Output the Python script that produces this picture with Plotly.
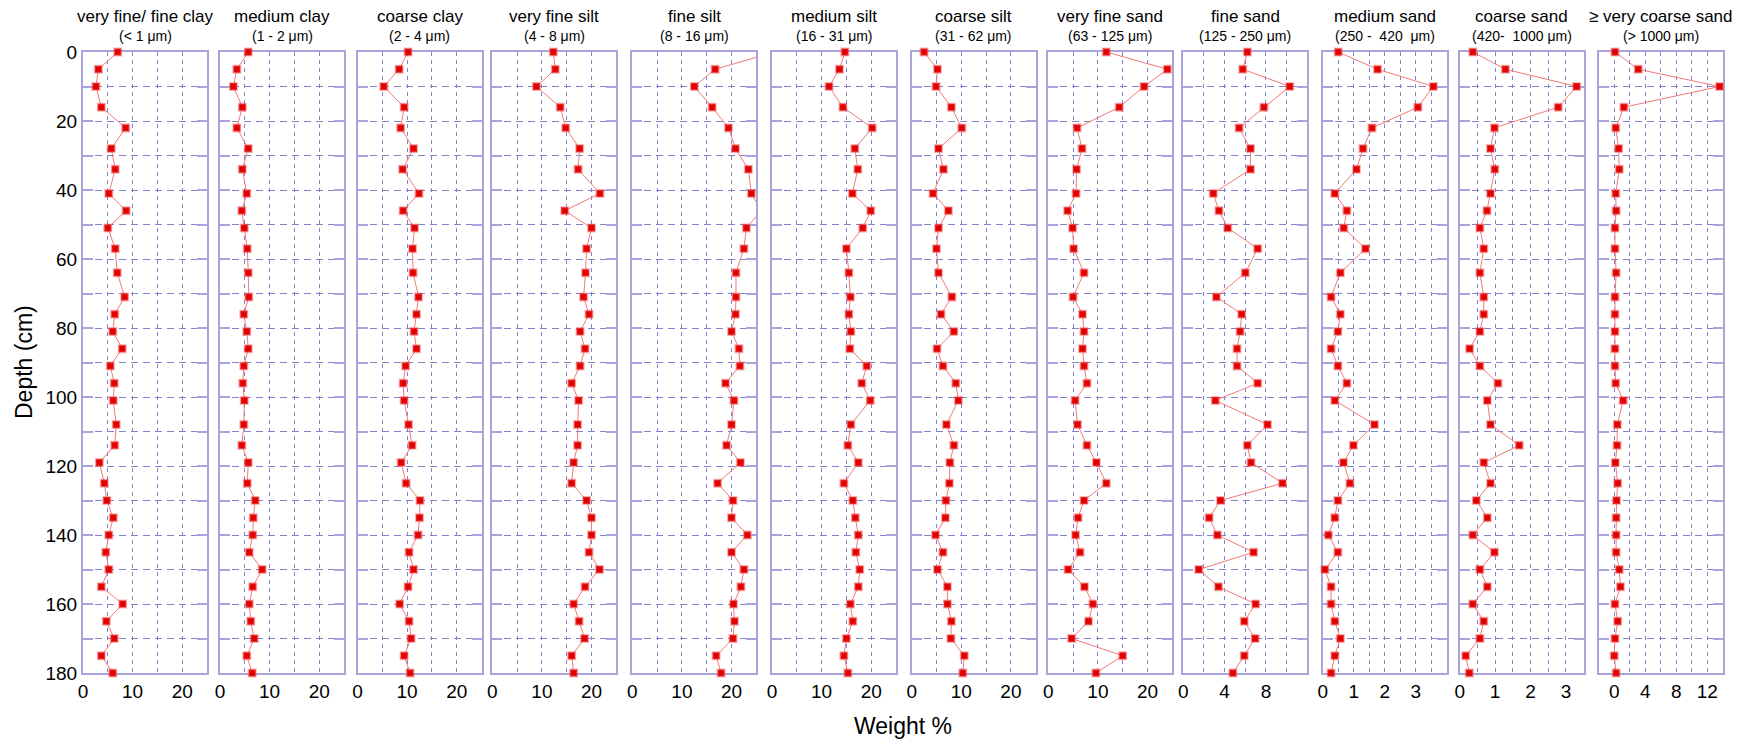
import plotly.graph_objects as go

# ---------------- data ----------------
depth = [0, 5, 10, 16, 22, 28, 34, 41, 46, 51, 57, 64, 71, 76, 81, 86, 91, 96, 101,
         108, 114, 119, 125, 130, 135, 140, 145, 150, 155, 160, 165, 170, 175, 180]

titles = ["very fine/ fine clay", "medium clay", "coarse clay", "very fine silt",
          "fine silt", "medium silt", "coarse silt", "very fine sand", "fine sand",
          "medium sand", "coarse sand", "≥ very coarse sand"]
subtitles = ["(< 1 μm)", "(1 - 2 μm)", "(2 - 4 μm)", "(4 - 8 μm)", "(8 - 16 μm)",
             "(16 - 31 μm)", "(31 - 62 μm)", "(63 - 125 μm)", "(125 - 250 μm)",
             "(250 -  420  μm)", "(420-  1000 μm)", "(> 1000 μm)"]

very_fine_clay = [7.0, 3.1, 2.6, 3.7, 8.6, 5.7, 6.5, 5.2, 8.7, 5.0, 6.5,
                  6.9, 8.4, 6.4, 6.0, 7.9, 5.5, 6.3, 6.1, 6.7, 6.4, 3.3, 4.3, 4.8,
                  6.1, 5.2, 4.6, 5.2, 3.7, 8.0, 4.7, 6.3, 3.7, 6.0]
medium_clay = [5.7, 3.4, 2.7, 4.5, 3.4, 5.7, 4.5, 5.4, 4.4, 4.9, 5.5,
               5.7, 5.8, 4.8, 5.4, 5.7, 4.8, 4.6, 4.9, 4.8, 4.4, 5.7, 5.5, 7.1,
               6.7, 6.6, 5.9, 8.5, 6.6, 5.9, 6.2, 6.9, 5.4, 6.5]
coarse_clay = [10.2, 8.4, 5.3, 9.4, 8.7, 11.3, 9.1, 12.4, 9.2, 11.5, 11.1,
               11.2, 12.3, 11.9, 11.4, 11.9, 9.7, 9.2, 9.4, 10.3, 11.0, 8.8, 9.8, 12.6,
               12.5, 12.2, 10.4, 11.3, 10.2, 8.5, 10.4, 10.8, 9.4, 10.6]
very_fine_silt = [12.3, 12.7, 8.9, 13.7, 14.8, 17.6, 17.3, 21.7, 14.6, 20.0, 19.0,
                  18.8, 18.4, 19.5, 17.7, 18.7, 17.7, 16.0, 17.4, 17.2, 17.2, 16.4, 16.0, 19.0,
                  20.0, 20.0, 19.5, 21.6, 18.7, 16.4, 17.5, 18.6, 16.0, 16.4]
fine_silt = [28.7, 16.7, 12.5, 16.1, 19.4, 20.8, 23.4, 24.0, 26.0, 23.0, 22.5,
             20.9, 20.9, 20.8, 20.0, 21.5, 21.7, 18.8, 20.5, 20.0, 19.0, 21.8, 17.2, 20.3,
             20.0, 23.2, 20.0, 22.5, 21.9, 20.4, 20.6, 20.3, 16.9, 17.9]
medium_silt = [14.7, 13.6, 11.5, 14.3, 20.2, 16.7, 17.3, 16.2, 19.9, 18.3, 15.0,
               15.5, 15.8, 15.5, 15.9, 15.7, 19.1, 18.1, 19.8, 15.9, 15.3, 17.4, 14.5, 16.3,
               16.8, 17.4, 16.9, 17.7, 17.4, 15.8, 16.3, 15.0, 14.5, 15.3]
coarse_silt = [2.5, 5.2, 4.9, 8.0, 10.1, 5.4, 6.4, 4.3, 7.4, 5.4, 5.0,
               5.4, 8.1, 5.9, 8.5, 5.1, 6.3, 8.9, 9.4, 7.0, 8.5, 7.7, 7.6, 6.9,
               6.8, 4.8, 6.3, 5.2, 7.2, 7.2, 8.0, 7.9, 10.6, 10.3]
very_fine_sand = [11.7, 24.0, 19.3, 14.3, 5.8, 6.8, 5.7, 5.6, 3.9, 4.9, 5.1,
                  7.2, 5.0, 6.9, 7.2, 6.9, 7.2, 7.8, 5.4, 5.9, 7.8, 9.7, 11.7, 7.2,
                  6.0, 5.5, 6.4, 4.0, 7.3, 9.0, 8.1, 4.7, 15.0, 9.6]
fine_sand = [6.2, 5.75, 10.3, 7.8, 5.4, 6.5, 6.5, 2.9, 3.45, 4.3, 7.2,
             6.0, 3.2, 5.65, 5.5, 5.2, 5.2, 7.2, 3.1, 8.15, 6.2, 6.55, 9.6, 3.6,
             2.5, 3.3, 6.8, 1.5, 3.4, 7.0, 5.9, 6.95, 5.9, 4.8]
medium_sand = [0.5, 1.77, 3.57, 3.07, 1.59, 1.30, 1.09, 0.39, 0.78, 0.68, 1.38,
               0.57, 0.27, 0.57, 0.49, 0.27, 0.49, 0.78, 0.39, 1.67, 0.99, 0.67, 0.88, 0.49,
               0.39, 0.18, 0.49, 0.07, 0.27, 0.27, 0.39, 0.57, 0.39, 0.27]
coarse_sand = [0.37, 1.29, 3.30, 2.78, 0.98, 0.87, 0.99, 0.87, 0.77, 0.57, 0.68,
               0.57, 0.68, 0.68, 0.57, 0.28, 0.57, 1.08, 0.78, 0.87, 1.68, 0.68, 0.87, 0.47,
               0.78, 0.37, 0.98, 0.57, 0.78, 0.37, 0.68, 0.57, 0.17, 0.27]
very_coarse_sand = [0.1, 3.1, 13.6, 1.25, 0.2, 0.57, 0.65, 0.2, 0.25, 0.1, 0.1,
                    0.25, 0.1, 0.1, 0.1, 0.1, 0.1, 0.2, 1.16, 0.4, 0.37, 0.15, 0.45, 0.3,
                    0.25, 0.25, 0.25, 0.65, 0.8, 0.1, 0.45, 0.1, 0.0, 0.25]

series = [very_fine_clay, medium_clay, coarse_clay, very_fine_silt, fine_silt,
          medium_silt, coarse_silt, very_fine_sand, fine_sand, medium_sand,
          coarse_sand, very_coarse_sand]

x_ranges = [[0, 25]] * 8 + [[0, 12], [0, 4], [0, 3.5], [-2, 14]]
x_grid_step = [5] * 8 + [2, 0.5, 0.5, 2]
x_tick_labels = [[0, 10, 20]] * 8 + [[0, 4, 8], [0, 1, 2, 3], [0, 1, 2, 3], [0, 4, 8, 12]]
depth_labels = [0, 20, 40, 60, 80, 100, 120, 140, 160, 180]

# ---------------- layout geometry (screen pixels) ----------------
W, H = 1759, 743
panel_left = [83, 220, 357.5, 492.3, 632.3, 772, 911.7, 1048.3, 1183.3, 1322.7, 1459.7, 1598.7]
panel_w = 124
plot_top, plot_bot = 52, 673

def px_x(p):
    return p / W

def px_y(p):
    return 1 - p / H

FRAME = "#a9a5dc"
GRID = "#8780cb"
FONT = "Liberation Sans, Arial, sans-serif"

fig = go.Figure()
layout = dict(
    width=W, height=H,
    margin=dict(l=0, r=0, t=0, b=0, pad=0, autoexpand=False),
    paper_bgcolor="white", plot_bgcolor="white",
    showlegend=False,
    font=dict(family=FONT, color="black"),
)

annotations = []
for i, vals in enumerate(series):
    n = i + 1
    xa = "x" if n == 1 else f"x{n}"
    ya = "y" if n == 1 else f"y{n}"
    fig.add_trace(go.Scatter(
        x=vals, y=depth, xaxis=xa, yaxis=ya, mode="lines+markers",
        line=dict(color="#f27a7a", width=1),
        marker=dict(symbol="square", size=7, color="#e00000",
                    line=dict(width=2, color="rgba(245,90,90,0.45)")),
        cliponaxis=False, hoverinfo="x+y",
    ))
    lo, hi = x_ranges[i]
    step = x_grid_step[i]
    k = 0
    tv = []
    while True:
        v = round(lo + k * step, 6)
        if v > hi + 1e-9:
            break
        tv.append(v)
        k += 1
    tt = [(f"{v:g}" if any(abs(v - l) < 1e-9 for l in x_tick_labels[i]) else "") for v in tv]
    d0 = px_x(panel_left[i])
    d1 = px_x(panel_left[i] + panel_w)
    layout[f"xaxis{'' if n == 1 else n}"] = dict(
        domain=[d0, d1], range=[lo, hi], anchor=ya, automargin=False,
        tickmode="array", tickvals=tv, ticktext=tt, ticks="",
        showgrid=True, gridcolor=GRID, gridwidth=1, griddash="4px,4px",
        showline=True, linecolor=FRAME, linewidth=2, mirror=True,
        zeroline=False, tickfont=dict(size=19, family=FONT, color="black"),
        layer="below traces", fixedrange=True,
    )
    layout[f"yaxis{'' if n == 1 else n}"] = dict(
        domain=[px_y(plot_bot), px_y(plot_top)], range=[180, 0], anchor=xa,
        automargin=False,
        tickmode="array", tickvals=list(range(0, 181, 10)),
        ticktext=[(str(v) if v in depth_labels else "") for v in range(0, 181, 10)],
        showticklabels=(n == 1),
        ticks="inside", ticklen=10, tickwidth=1.5, tickcolor=FRAME,
        showgrid=True, gridcolor=GRID, gridwidth=1, griddash="7px,5px",
        showline=True, linecolor=FRAME, linewidth=2, mirror="ticks",
        zeroline=False, tickfont=dict(size=19, family=FONT, color="black"),
        layer="below traces", fixedrange=True,
    )
    cx = px_x(panel_left[i] + panel_w / 2)
    annotations.append(dict(text=titles[i], x=cx, y=px_y(16), xref="paper", yref="paper",
                            xanchor="center", yanchor="middle", showarrow=False,
                            font=dict(size=17, family=FONT, color="black")))
    annotations.append(dict(text=subtitles[i], x=cx, y=px_y(36), xref="paper", yref="paper",
                            xanchor="center", yanchor="middle", showarrow=False,
                            font=dict(size=14, family=FONT, color="black")))

annotations.append(dict(text="Depth (cm)", x=px_x(24), y=px_y(362), xref="paper", yref="paper",
                        xanchor="center", yanchor="middle", showarrow=False, textangle=-90,
                        font=dict(size=23, family=FONT, color="black")))
annotations.append(dict(text="Weight %", x=px_x(903), y=px_y(726), xref="paper", yref="paper",
                        xanchor="center", yanchor="middle", showarrow=False,
                        font=dict(size=23, family=FONT, color="black")))
layout["annotations"] = annotations

fig.update_layout(**layout)
fig.write_html("out.html", include_plotlyjs=True, full_html=True,
               config={"displayModeBar": False},
               post_script="document.body.style.margin='0px';document.body.style.overflow='hidden';")
